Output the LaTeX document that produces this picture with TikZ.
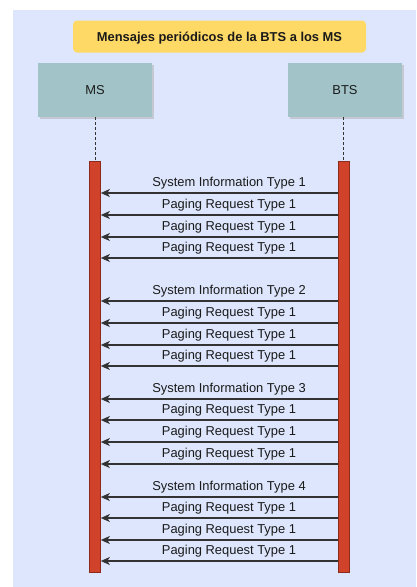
\documentclass[tikz,border=0pt]{standalone}
\usepackage{fontspec}
\setmainfont{Liberation Sans}
\usetikzlibrary{arrows.meta,shadows}
\definecolor{bgblue}{HTML}{DDE6FC}
\definecolor{titleyellow}{HTML}{FFD966}
\definecolor{boxteal}{HTML}{A2C4C9}
\definecolor{barred}{HTML}{D0432A}
\definecolor{barborder}{HTML}{8E2A1C}
\definecolor{arrowgray}{HTML}{333333}
\definecolor{shadowgray}{HTML}{C4C8D2}
\definecolor{textdark}{HTML}{1A1A1A}
\begin{document}
\begin{tikzpicture}[x=1pt,y=-1pt,
  every node/.style={font=\fontsize{12.9}{15}\selectfont, text=textdark},
  titlebox/.style={fill=titleyellow, rounded corners=4pt, minimum width=293pt, minimum height=32pt, inner sep=0pt, text height=9.3pt, text depth=0pt, font=\fontsize{12.9}{15}\selectfont\bfseries},
  actorbox/.style={fill=boxteal, minimum width=114pt, minimum height=54pt, inner sep=0pt, text height=9.3pt, text depth=0pt, drop shadow={shadow xshift=2pt, shadow yshift=-2pt, fill=shadowgray, opacity=1}},
  lifebar/.style={fill=barred, draw=barborder, line width=0.7pt, minimum width=11pt, minimum height=411pt, inner sep=0pt},
  lifeline/.style={draw=arrowgray, dashed, dash pattern=on 3pt off 2pt, line width=1pt},
  msg/.style={draw=arrowgray, line width=1.3pt, -{Stealth[length=9pt,width=8pt,inset=2.5pt]}},
  msglabel/.style={anchor=base, inner sep=0pt}
]
\useasboundingbox (0,0) rectangle (416,587);
\fill[bgblue] (13,10) rectangle (416,587);
\node[titlebox] (title) at (219.5,36.5) {Mensajes periódicos de la BTS a los MS};
\node[actorbox] (ms) at (95,90) {MS};
\node[actorbox] (bts) at (345,90) {BTS};
\node[lifebar] (msbar) at (95,366.5) {};
\node[lifebar] (btsbar) at (343.5,366.5) {};
\draw[lifeline] (ms.south) -- (msbar.north);
\draw[lifeline] (bts.south -| btsbar.north) -- (btsbar.north);
\foreach \y/\t in {193/System Information Type 1, 215/Paging Request Type 1, 237/Paging Request Type 1, 258/Paging Request Type 1,
                   301/System Information Type 2, 323/Paging Request Type 1, 345/Paging Request Type 1, 366/Paging Request Type 1,
                   399/System Information Type 3, 420/Paging Request Type 1, 442/Paging Request Type 1, 464/Paging Request Type 1,
                   497/System Information Type 4, 518/Paging Request Type 1, 540/Paging Request Type 1, 561/Paging Request Type 1}{
  \draw[msg] (btsbar.west |- 0,\y) -- (msbar.east |- 0,\y);
  \node[msglabel] at (229,\y-6.5) {\t};
}
\end{tikzpicture}
\end{document}
